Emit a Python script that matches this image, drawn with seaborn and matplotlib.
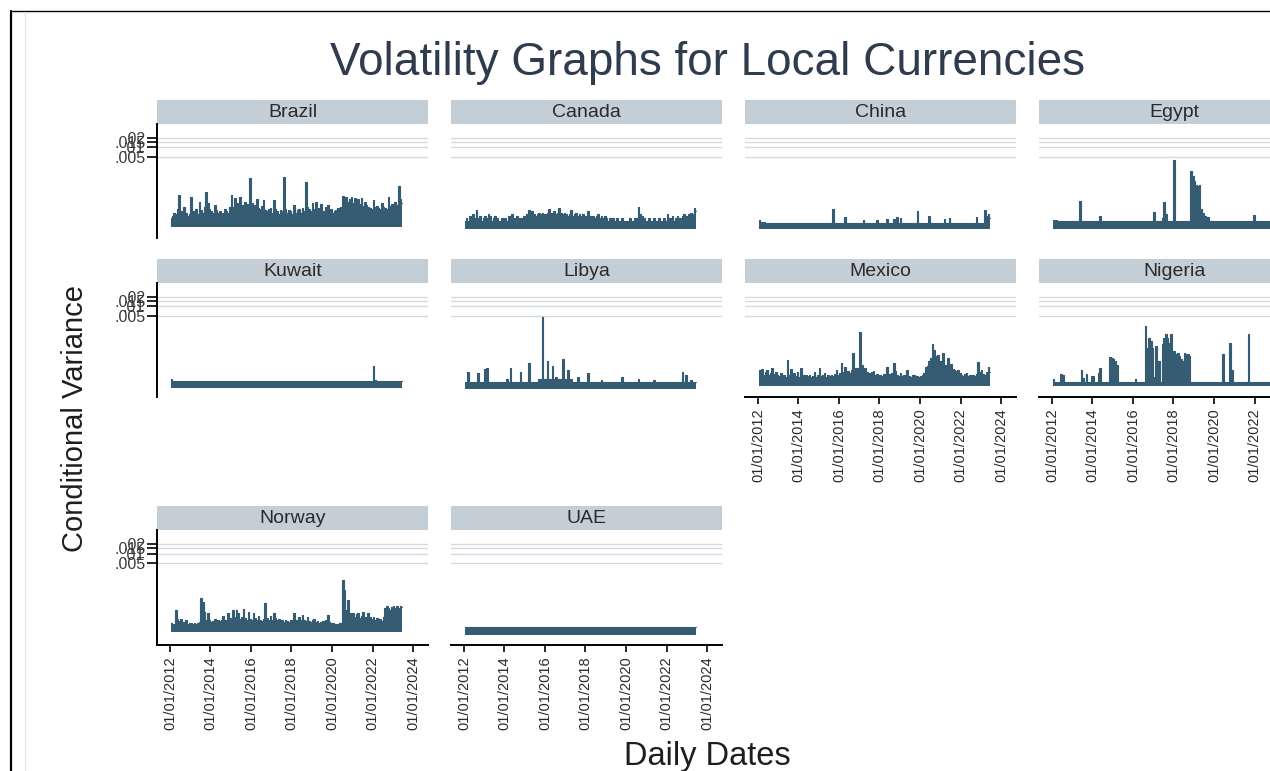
import numpy as np
import pandas as pd
import matplotlib
matplotlib.use("Agg")
import matplotlib.pyplot as plt
import seaborn as sns
from matplotlib.lines import Line2D
from matplotlib.ticker import NullLocator, FixedLocator

sns.set_theme(style="white")
plt.rcParams['font.family'] = ['Liberation Sans', 'DejaVu Sans']

# ---------------- data (monthly peak conditional variance, units of 1e-6) ----------------
countries = ["Brazil", "Canada", "China", "Egypt", "Kuwait",
             "Libya", "Mexico", "Nigeria", "Norway", "UAE"]
start_year = 2012
scale = 1e-6

brazil = [60, 70, 90, 80, 120, 320, 100, 80, 140, 90, 70, 80,
          290, 100, 90, 120, 80, 200, 110, 90, 140, 410, 180, 120,
          100, 90, 160, 110, 90, 100, 80, 90, 120, 100, 90, 140,
          320, 140, 260, 150, 180, 280, 160, 140, 200, 170, 150, 1080,
          180, 140, 160, 250, 130, 120, 150, 220, 110, 100, 120, 130,
          90, 220, 120, 100, 80, 110, 100, 1210, 120, 90, 110, 100,
          80, 160, 90, 110, 120, 90, 130, 100, 810, 140, 120, 100,
          180, 120, 200, 110, 130, 170, 100, 90, 140, 160, 110, 120,
          90, 100, 110, 130, 120, 140, 300, 220, 280, 200, 250, 290,
          180, 260, 200, 240, 170, 270, 150, 190, 160, 140, 130, 120,
          220, 140, 150, 130, 120, 180, 140, 130, 120, 290, 150, 170,
          140, 200, 160, 630, 240, 180]

canada = [50, 60, 50, 70, 60, 80, 60, 110, 60, 70, 50, 60,
          70, 60, 80, 70, 50, 60, 70, 60, 50, 50, 60, 50,
          60, 50, 70, 60, 80, 60, 50, 70, 60, 50, 60, 70,
          70, 80, 110, 80, 100, 80, 70, 80, 90, 80, 90, 80,
          80, 90, 120, 90, 80, 100, 80, 90, 130, 90, 80, 90,
          80, 70, 80, 110, 70, 80, 90, 70, 80, 70, 80, 70,
          70, 100, 70, 60, 70, 60, 70, 80, 60, 70, 60, 70,
          60, 50, 60, 50, 60, 50, 60, 50, 50, 60, 50, 50,
          50, 50, 60, 50, 50, 60, 60, 140, 80, 70, 60, 50,
          50, 60, 50, 50, 60, 50, 50, 60, 50, 50, 60, 50,
          80, 60, 60, 70, 50, 60, 70, 60, 60, 70, 80, 70,
          70, 80, 90, 80, 130, 100]

china = [52, 48, 46, 45, 44, 44, 44, 44, 44, 44, 44, 44,
         44, 44, 44, 44, 44, 44, 44, 44, 44, 44, 44, 44,
         44, 44, 44, 44, 44, 44, 44, 44, 44, 44, 44, 44,
         44, 44, 44, 44, 44, 44, 44, 44, 120, 44, 44, 44,
         44, 44, 44, 68, 44, 44, 44, 44, 44, 44, 44, 44,
         44, 44, 53, 44, 44, 44, 44, 44, 44, 44, 55, 44,
         44, 44, 44, 44, 56, 44, 44, 44, 58, 44, 67, 44,
         62, 44, 44, 44, 44, 44, 44, 44, 44, 44, 104, 44,
         44, 44, 44, 44, 44, 70, 44, 44, 44, 44, 44, 44,
         44, 44, 56, 44, 44, 60, 44, 44, 44, 44, 44, 44,
         44, 44, 44, 44, 44, 44, 44, 44, 44, 67, 44, 44,
         44, 44, 110, 70, 80, 60]

egypt = [55, 50, 52, 49, 50, 49, 49, 49, 49, 49, 49, 49,
         49, 49, 49, 49, 215, 49, 49, 49, 49, 49, 49, 49,
         49, 49, 49, 49, 72, 49, 49, 49, 49, 49, 49, 49,
         49, 49, 49, 49, 49, 49, 49, 49, 49, 49, 49, 49,
         49, 49, 49, 49, 49, 49, 49, 49, 49, 49, 49, 49,
         96, 49, 49, 49, 49, 60, 197, 80, 49, 49, 49, 49,
         4100, 49, 49, 49, 49, 49, 49, 49, 49, 49, 1780, 1250,
         900, 680, 620, 650, 120, 90, 70, 55, 65, 49, 49, 49,
         49, 49, 49, 49, 49, 49, 49, 49, 49, 49, 49, 49,
         49, 49, 49, 49, 49, 49, 49, 49, 49, 49, 49, 79,
         49, 49, 49, 49, 49, 49, 49, 49, 49, 49, 49, 49,
         49, 49, 49, 49, 49, 49]

kuwait = [55, 46, 46, 46, 46, 46, 46, 46, 46, 46, 46, 46,
          46, 46, 46, 46, 46, 46, 46, 46, 46, 46, 46, 46,
          46, 46, 46, 46, 46, 46, 46, 46, 46, 46, 46, 46,
          46, 46, 46, 46, 46, 46, 46, 46, 46, 46, 46, 46,
          46, 46, 46, 46, 46, 46, 46, 46, 46, 46, 46, 46,
          46, 46, 46, 46, 46, 46, 46, 46, 46, 46, 46, 46,
          46, 46, 46, 46, 46, 46, 46, 46, 46, 46, 46, 46,
          46, 46, 46, 46, 46, 46, 46, 46, 46, 46, 46, 46,
          46, 46, 46, 46, 46, 46, 46, 46, 46, 46, 46, 46,
          46, 46, 46, 46, 46, 46, 46, 46, 46, 46, 46, 46,
          137, 50, 46, 46, 46, 46, 46, 46, 46, 46, 46, 46,
          46, 46, 46, 46, 46, 46]

libya = [43, 43, 89, 43, 43, 43, 43, 43, 80, 43, 43, 43,
         110, 120, 43, 43, 43, 43, 43, 43, 43, 43, 43, 43,
         43, 55, 43, 115, 43, 43, 43, 43, 43, 89, 43, 43,
         43, 43, 165, 43, 43, 43, 43, 43, 54, 54, 4650, 54,
         54, 200, 54, 54, 137, 54, 60, 54, 54, 54, 227, 54,
         54, 104, 54, 55, 43, 43, 43, 60, 43, 43, 43, 43,
         43, 80, 43, 43, 43, 43, 43, 43, 43, 50, 43, 43,
         43, 43, 43, 43, 43, 43, 43, 43, 43, 60, 43, 43,
         43, 43, 43, 43, 43, 43, 43, 55, 43, 43, 43, 43,
         43, 43, 43, 43, 50, 43, 43, 43, 43, 43, 43, 43,
         43, 43, 43, 43, 43, 43, 43, 43, 43, 89, 43, 70,
         43, 43, 50, 43, 43, 43]

mexico = [100, 60, 110, 70, 90, 100, 70, 80, 120, 75, 90, 70,
          65, 80, 60, 72, 60, 210, 70, 110, 60, 85, 65, 90,
          60, 115, 70, 60, 72, 65, 70, 62, 68, 89, 64, 70,
          115, 66, 72, 85, 64, 70, 66, 72, 68, 75, 100, 70,
          80, 165, 90, 128, 80, 95, 80, 100, 360, 120, 115, 90,
          1580, 147, 100, 115, 90, 85, 80, 90, 95, 70, 75, 68,
          72, 66, 75, 70, 125, 75, 70, 80, 173, 95, 70, 65,
          80, 66, 70, 64, 104, 68, 62, 70, 70, 65, 68, 62,
          66, 70, 80, 125, 140, 190, 250, 670, 430, 280, 300, 180,
          200, 350, 140, 150, 240, 130, 160, 110, 100, 95, 105, 80,
          70, 66, 75, 80, 68, 72, 64, 70, 66, 75, 185, 90,
          100, 75, 70, 90, 126, 90]

nigeria = [52, 44, 44, 44, 44, 77, 70, 44, 44, 44, 44, 44,
           44, 44, 44, 44, 44, 100, 59, 44, 77, 44, 44, 67,
           67, 44, 44, 85, 122, 44, 44, 44, 44, 44, 270, 240,
           220, 200, 150, 44, 44, 44, 44, 44, 44, 44, 44, 44,
           44, 52, 44, 44, 44, 44, 44, 2380, 510, 1050, 820, 510,
           60, 580, 120, 197, 44, 650, 1050, 1400, 1050, 730, 1400, 400,
           400, 320, 350, 290, 220, 197, 350, 320, 320, 290, 44, 44,
           44, 44, 44, 44, 44, 44, 44, 44, 44, 44, 44, 44,
           44, 44, 44, 44, 44, 320, 44, 44, 44, 730, 100, 44,
           44, 44, 44, 44, 44, 44, 44, 44, 1340, 44, 44, 44,
           44, 44, 44, 44, 44, 44, 44, 44, 44, 44, 44, 44,
           44, 44, 44, 44, 44, 44]

norway = [70, 60, 65, 175, 95, 80, 95, 70, 75, 85, 65, 70,
          72, 65, 70, 68, 70, 75, 430, 320, 160, 90, 140, 85,
          75, 80, 95, 70, 85, 80, 85, 120, 90, 80, 140, 100,
          90, 175, 110, 175, 140, 95, 110, 197, 100, 90, 160, 95,
          85, 140, 100, 90, 115, 85, 80, 95, 300, 100, 85, 120,
          90, 140, 100, 85, 95, 80, 85, 75, 85, 80, 75, 85,
          90, 140, 85, 80, 105, 90, 125, 85, 80, 105, 80, 75,
          85, 95, 75, 80, 72, 75, 80, 70, 85, 125, 75, 72,
          70, 65, 68, 65, 70, 72, 1500, 770, 175, 360, 140, 120,
          140, 110, 130, 140, 100, 120, 160, 110, 100, 140, 105, 95,
          105, 90, 100, 85, 95, 80, 110, 200, 240, 210, 180, 220,
          240, 200, 230, 210, 240, 220]

uae = [53, 53, 53, 53, 53, 53, 53, 53, 53, 53, 53, 53,
       53, 53, 53, 53, 53, 53, 53, 53, 53, 53, 53, 53,
       53, 53, 53, 53, 53, 53, 53, 53, 53, 53, 53, 53,
       53, 53, 53, 53, 53, 53, 53, 53, 53, 53, 53, 53,
       53, 53, 53, 53, 53, 53, 53, 53, 53, 53, 53, 53,
       53, 53, 53, 53, 53, 53, 53, 53, 53, 53, 53, 53,
       53, 53, 53, 53, 53, 53, 53, 53, 53, 53, 53, 53,
       53, 53, 53, 53, 53, 53, 53, 53, 53, 53, 53, 53,
       53, 53, 53, 53, 53, 53, 53, 53, 53, 53, 53, 53,
       53, 53, 53, 53, 53, 53, 53, 53, 53, 53, 53, 53,
       53, 53, 53, 53, 53, 53, 53, 53, 53, 53, 53, 53,
       53, 53, 53, 53, 53, 53]

# minimum (floor) variance of each series, units of 1e-6
floors = [32, 28, 28, 29, 29, 27, 32, 32, 37, 29]

series = [brazil, canada, china, egypt, kuwait, libya, mexico, nigeria, norway, uae]

x_tick_years = [2012, 2014, 2016, 2018, 2020, 2022, 2024]
x_tick_labels = ["01/01/2012", "01/01/2014", "01/01/2016", "01/01/2018",
                 "01/01/2020", "01/01/2022", "01/01/2024"]
y_ticks = [0.005, 0.01, 0.015, 0.02]
y_tick_labels = [".005", ".01", ".015", ".02"]

# ---------------- styling / layout ----------------
W, H = 1270, 771
fig = plt.figure(figsize=(W / 100, H / 100), dpi=100)
fig.patch.set_facecolor("white")

line_color = "#365c74"
strip_color = "#c4ced7"
grid_color = "#d6dadf"

col_left = [157, 451, 745, 1039]
panel_w = 271
rows = [(100, 124, 238), (259, 283, 397), (506, 530, 645)]


def fig_rect(left, top, width, height):
    return [left / W, 1 - (top + height) / H, width / W, height / H]


for i, (name, vals, flo) in enumerate(zip(countries, series, floors)):
    r, c = divmod(i, 4)
    strip_top, plot_top, plot_bot = rows[r]
    left = col_left[c]

    # strip header
    sax = fig.add_axes(fig_rect(left, strip_top, panel_w, plot_top - strip_top))
    sax.set_facecolor(strip_color)
    for s in sax.spines.values():
        s.set_visible(False)
    sax.set_xticks([])
    sax.set_yticks([])
    sax.text(0.5, 0.47, name, ha="center", va="center", fontsize=14,
             color="#2a2a2a", transform=sax.transAxes)

    ax = fig.add_axes(fig_rect(left, plot_top, panel_w, plot_bot - plot_top))
    ax.set_facecolor("white")
    dates = [start_year + (m + 0.5) / 12 for m in range(len(vals))]
    df = pd.DataFrame({"date": dates, "variance": np.array(vals) * scale})

    ax.fill_between(df["date"], flo * scale, df["variance"], step="mid",
                    color=line_color, lw=0, zorder=2)
    sns.lineplot(data=df, x="date", y="variance", ax=ax, color=line_color,
                 lw=0.8, drawstyle="steps-mid", zorder=3)

    ax.set_yscale("log")
    ax.set_ylim(1.47e-5, 0.0537)
    ax.set_xlim(2011.36, 2024.74)
    ax.yaxis.set_major_locator(FixedLocator(y_ticks))
    ax.yaxis.set_minor_locator(NullLocator())
    ax.set_yticklabels(y_tick_labels)
    ax.set_xticks(x_tick_years)
    ax.set_xticklabels(x_tick_labels)
    ax.xaxis.set_minor_locator(NullLocator())
    ax.set_xlabel("")
    ax.set_ylabel("")
    ax.grid(axis="y", color=grid_color, lw=1.0, zorder=0)
    ax.grid(axis="x", visible=False)
    ax.set_axisbelow(True)

    show_y = (c == 0)
    show_x = (r == 2) or (r == 1 and c >= 2)

    for s in ["top", "right"]:
        ax.spines[s].set_visible(False)
    ax.spines["left"].set_visible(show_y)
    ax.spines["bottom"].set_visible(show_x)
    ax.spines["left"].set_color("black")
    ax.spines["bottom"].set_color("black")
    ax.spines["left"].set_linewidth(1.4)
    ax.spines["bottom"].set_linewidth(1.4)

    ax.tick_params(axis="y", which="major", left=show_y, labelleft=show_y,
                   direction="out", length=7.5, width=1.2, pad=1,
                   labelsize=11.5, labelcolor="#3a3a3a", color="black")
    ax.tick_params(axis="x", which="major", bottom=show_x, labelbottom=show_x,
                   direction="out", length=5, width=1.2, pad=3,
                   labelsize=10.5, labelcolor="#2a2a2a", color="black",
                   labelrotation=90)

# titles
fig.text(708 / W, 1 - 63 / H, "Volatility Graphs for Local Currencies",
         ha="center", va="center", fontsize=33, color="#2e3c4e")
fig.text(75 / W, 1 - 419 / H, "Conditional Variance", rotation=90,
         ha="center", va="center", fontsize=21, color="#1e1e1e")
fig.text(707 / W, 1 - 757 / H, "Daily Dates", ha="center", va="center",
         fontsize=23.5, color="#1e1e1e")

# screenshot frame lines
fig.add_artist(Line2D([10.5 / W, 10.5 / W], [0, 1 - 10.5 / H], color="black",
                      lw=1.6, transform=fig.transFigure))
fig.add_artist(Line2D([10.5 / W, 1], [1 - 10.5 / H, 1 - 10.5 / H], color="black",
                      lw=1.0, transform=fig.transFigure))
fig.add_artist(Line2D([25 / W, 25 / W], [0, 1 - 12 / H], color="#e4e8ec",
                      lw=1.0, transform=fig.transFigure))

fig.savefig("out.png", dpi=100, facecolor="white")
